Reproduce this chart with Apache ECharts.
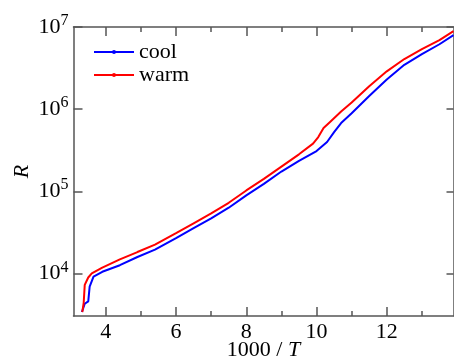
<!DOCTYPE html>
<html>
<head>
<meta charset="utf-8">
<script src="https://cdn.jsdelivr.net/npm/echarts@6/dist/echarts.min.js"></script>
<style>html,body{margin:0;padding:0;background:#fff}#c{width:454px;height:360px}</style>
</head>
<body>
<div id="c"></div>
<script>
// data (x = 1000/T, R)
const coolX = [3.32, 3.40, 3.50, 3.54, 3.65, 3.9, 4.4, 4.9, 5.4, 6.0, 6.5, 7.0, 7.5, 8.0, 8.5, 9.0, 9.5, 10.0, 10.3, 10.5, 10.7, 11.0, 11.5, 12.0, 12.5, 13.0, 13.5, 13.9];
const coolR = [3390, 4266, 4571, 6918, 9120, 10470, 12590, 15850, 19500, 26920, 35480, 46770, 63100, 89130, 123000, 173800, 234400, 309000, 398100, 524800, 676100, 891300, 1445000, 2291000, 3467000, 4677000, 6166000, 7943000];
const warmX = [3.33, 3.37, 3.40, 3.50, 3.60, 3.9, 4.4, 4.9, 5.4, 6.0, 6.5, 7.0, 7.5, 8.0, 8.5, 9.0, 9.5, 9.9, 10.05, 10.2, 10.4, 10.7, 11.0, 11.5, 12.0, 12.5, 13.0, 13.5, 13.9];
const warmR = [3390, 4365, 7244, 8913, 10000, 11750, 14790, 18200, 22390, 30900, 40740, 53700, 72440, 102300, 141300, 199500, 281800, 380200, 457100, 588800, 707900, 933300, 1202000, 1905000, 2884000, 4074000, 5370000, 6918000, 8913000];
const xMajor = [4, 6, 8, 10, 12];
const xMinor = [5, 7, 9, 11, 13];
const yMajor = [1e4, 1e5, 1e6, 1e7];
const seriesNames = ['cool', 'warm'];

const FONT = 'Liberation Serif';
const AX = '#555';
const xMin = 3.08, xMax = 13.9, yMin = 3030, yMax = 1e7;

function xAx(pos, custom, len, withLine, withLabel) {
  return {
    type: 'value', position: pos, min: xMin, max: xMax,
    axisLine: {show: withLine, onZero: false, lineStyle: {color: AX, width: 1.5}},
    axisTick: {show: true, inside: true, length: len, customValues: custom, lineStyle: {color: AX, width: 1.5}},
    axisLabel: withLabel ? {show: true, customValues: custom, color: '#000', fontFamily: FONT, fontSize: 22, margin: 5} : {show: false},
    splitLine: {show: false}
  };
}

const chart = echarts.init(document.getElementById('c'), null, {renderer: 'canvas'});
chart.setOption({
  animation: false,
  backgroundColor: '#fff',
  grid: {left: 73.5, right: 0.5, top: 27, bottom: 44, containLabel: false, outerBoundsMode: 'none'},
  legend: {
    left: 93, top: 41, orient: 'vertical', padding: 0, itemGap: 1, itemWidth: 40, itemHeight: 5,
    data: seriesNames,
    textStyle: {fontFamily: FONT, fontSize: 22, color: '#000', lineHeight: 22}
  },
  xAxis: [
    Object.assign(xAx('bottom', xMajor, 9, true, true), {
      name: '1000 / {i|T}', nameLocation: 'middle', nameGap: 23, nameMoveOverlap: false,
      nameTextStyle: {fontFamily: FONT, fontSize: 22, color: '#000', rich: {i: {fontFamily: FONT, fontSize: 22, fontStyle: 'italic', color: '#000'}}}
    }),
    xAx('bottom', xMinor, 5, false, false),
    xAx('top', xMajor, 9, true, false),
    xAx('top', xMinor, 5, false, false)
  ],
  yAxis: [
    {
      type: 'log', logBase: 10, position: 'left', min: yMin, max: yMax,
      name: 'R', nameLocation: 'middle', nameGap: 40, nameRotate: 90, nameMoveOverlap: false,
      nameTextStyle: {fontFamily: FONT, fontSize: 22, fontStyle: 'italic', color: '#000'},
      axisLine: {show: true, lineStyle: {color: AX, width: 1.5}},
      axisTick: {show: true, inside: true, length: 9, customValues: yMajor, lineStyle: {color: AX, width: 1.5}},
      axisLabel: {
        show: true, customValues: yMajor, margin: 5, color: '#000',
        formatter: v => '{b|10}{s|' + Math.round(Math.log10(v)) + '}',
        rich: {
          b: {fontFamily: FONT, fontSize: 22, color: '#000', verticalAlign: 'bottom', lineHeight: 22},
          s: {fontFamily: FONT, fontSize: 16, color: '#000', verticalAlign: 'bottom', lineHeight: 16, padding: [0, 0, 9, 0]}
        }
      },
      splitLine: {show: false}, minorTick: {show: false}
    },
    {
      type: 'log', logBase: 10, position: 'right', min: yMin, max: yMax,
      axisLine: {show: true, lineStyle: {color: AX, width: 1.5}},
      axisTick: {show: true, inside: true, length: 7, customValues: yMajor, lineStyle: {color: AX, width: 1.5}},
      axisLabel: {show: false}, splitLine: {show: false}
    }
  ],
  series: [
    {
      name: seriesNames[0], type: 'line', xAxisIndex: 0, yAxisIndex: 0,
      data: coolX.map((x, i) => [x, coolR[i]]),
      showSymbol: false, symbol: 'circle', symbolSize: 3,
      lineStyle: {color: '#0000ff', width: 2}, itemStyle: {color: '#0000ff'}
    },
    {
      name: seriesNames[1], type: 'line', xAxisIndex: 0, yAxisIndex: 0,
      data: warmX.map((x, i) => [x, warmR[i]]),
      showSymbol: false, symbol: 'circle', symbolSize: 3,
      lineStyle: {color: '#ff0000', width: 2}, itemStyle: {color: '#ff0000'}
    }
  ]
});
</script>
</body>
</html>
